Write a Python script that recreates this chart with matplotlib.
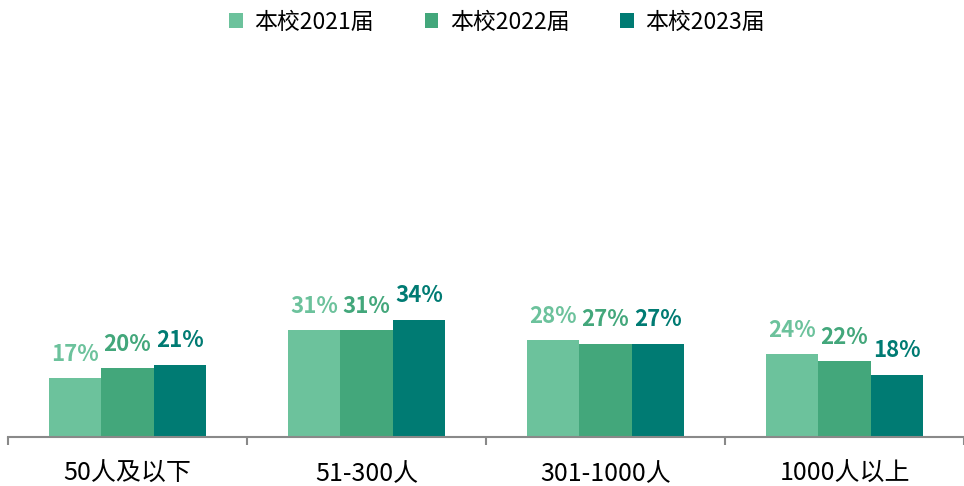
import matplotlib
matplotlib.use("Agg")
import matplotlib.pyplot as plt
import numpy as np

plt.rcParams["font.family"] = ["Noto Sans CJK SC", "DejaVu Sans"]

categories = ["50人及以下", "51-300人", "301-1000人", "1000人以上"]
series_names = ["本校2021届", "本校2022届", "本校2023届"]
v2021 = [17, 31, 28, 24]
v2022 = [20, 31, 27, 22]
v2023 = [21, 34, 27, 18]
colors = ["#6CC29C", "#43A77B", "#007B73"]

fig = plt.figure(figsize=(9.64, 4.86), dpi=100)
W, H = 964, 486
# axes: bottom at y=437 px, top at y=45 px
ax = fig.add_axes([8 / W, (H - 437) / H, 956 / W, (437 - 45) / H])

x = np.arange(len(categories))
bw = 0.22
for i, (vals, name, col) in enumerate(zip([v2021, v2022, v2023], series_names, colors)):
    pos = x + (i - 1) * bw
    ax.bar(pos, vals, width=bw, color=col, label=name, zorder=2)
    for p, v in zip(pos, vals):
        ax.annotate(f"{v}%", (p, v), xytext=(0, 9), textcoords="offset points",
                    ha="center", va="bottom", fontsize=16, fontweight="bold", color=col)

ax.set_xlim(-0.5, -0.5 + 956 / 240.5)
ax.set_ylim(0, (437 - 45) / 3.45)

for s in ("top", "right", "left"):
    ax.spines[s].set_visible(False)
ax.spines["bottom"].set_color("#898989")
ax.spines["bottom"].set_linewidth(1.5)
ax.set_yticks([])
ax.set_xticks(x)
ax.set_xticklabels(categories, fontsize=18)
ax.tick_params(axis="x", which="major", length=0, pad=17)
ax.set_xticks(np.arange(-0.5, len(categories) + 0.5, 1), minor=True)
ax.tick_params(axis="x", which="minor", length=6, width=1.5, color="#898989", direction="out")

fig.legend(loc="center", bbox_to_anchor=(497 / W, 1 - 22 / H), ncol=3, frameon=False,
           fontsize=16.5, handlelength=0.6, handleheight=0.6, handletextpad=0.5,
           columnspacing=2.2)

fig.savefig("out.png", dpi=100)
